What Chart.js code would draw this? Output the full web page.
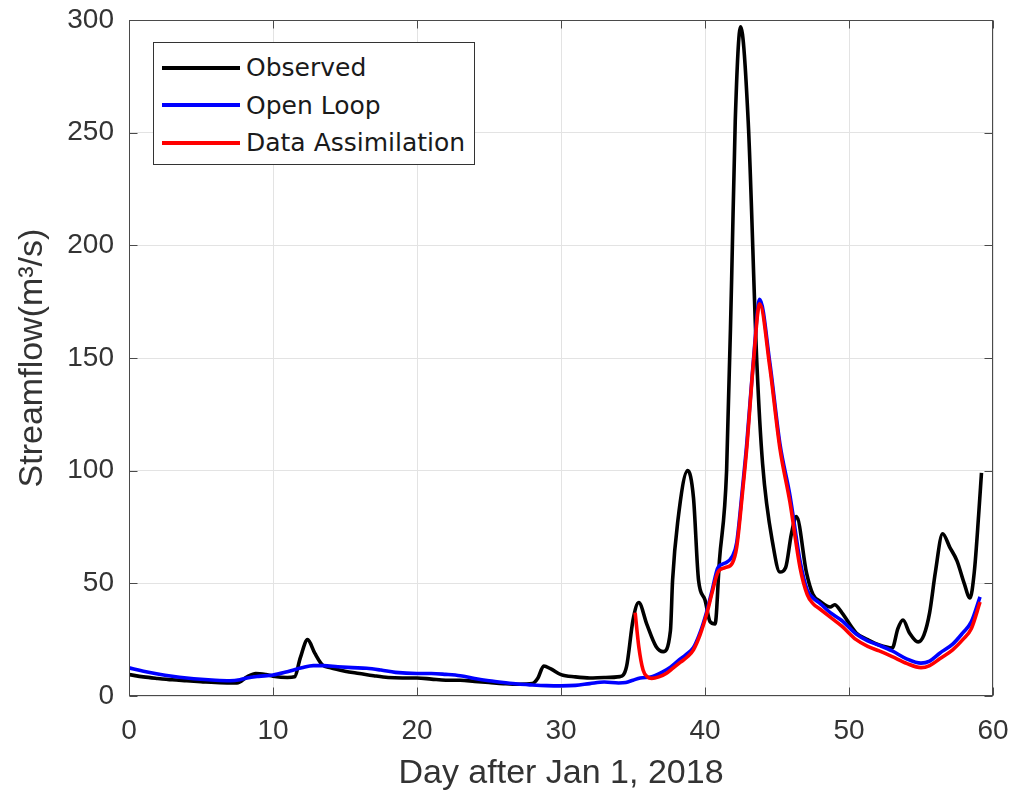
<!DOCTYPE html>
<html>
<head>
<meta charset="utf-8">
<script src="https://cdn.jsdelivr.net/npm/chart.js@4/dist/chart.umd.min.js"></script>
<style>
  html, body { margin: 0; padding: 0; background: #fff; }
  #wrap { position: relative; width: 1016px; height: 796px; }
  #flow { display: block; }
  #legend {
    position: absolute; left: 153px; top: 42px; width: 322px; height: 123px;
    border: 1px solid #333; background: #fff; box-sizing: border-box;
    padding-top: 6px; font-family: "DejaVu Sans", sans-serif; font-size: 25px; color: #1a1a1a;
  }
  #legend .row { display: flex; align-items: center; height: 37.5px; }
  #legend .swatch { width: 78px; height: 4px; margin-left: 8px; margin-right: 6px; }
</style>
</head>
<body>
<div id="wrap">
  <canvas id="flow" width="1016" height="796"></canvas>
  <div id="legend"></div>
</div>
<script>
// Daily streamflow record, Jan 1 – Mar 1 2018 (days after Jan 1, m³/s)
const obsDays = [0, 1, 2, 3, 4, 5, 6, 7, 7.5, 8.2, 8.8, 9.5, 10, 11, 11.5, 11.9, 12.4, 12.9, 13.4, 14, 15, 16, 17, 18, 19, 20,
  21, 22, 23, 24, 25, 26, 27, 28, 28.4, 28.8, 29.3, 30, 31, 32, 33, 34.1, 34.55, 35.0, 35.4, 35.95, 36.6, 37.1, 37.6, 37.75,
  38.1, 38.8, 39.2, 39.55, 40.0, 40.35, 40.7, 41.0, 41.5, 41.85, 42.1, 42.47, 43.0, 43.6, 44.0, 44.75, 45.2, 45.6, 46.0, 46.35,
  47.05, 47.5, 48.0, 48.7, 49.0, 49.5, 50.5, 51.3, 52.1, 53.0, 53.4, 53.75, 54.2, 54.8, 55.2, 55.6, 56.0, 56.5, 57.0, 57.5,
  58.0, 58.4, 58.7, 59.0, 59.2];
const obsFlow = [9.5, 8.5, 7.8, 7.2, 6.8, 6.4, 6.0, 5.8, 5.8, 8.5, 10, 9.5, 8.8, 8.2, 8.5, 17, 25, 19, 14, 12.5, 11, 10, 9, 8.2, 8, 8,
  7.5, 7, 7, 6.5, 6, 5.5, 5.2, 5.5, 8, 13.3, 12, 9.5, 8.5, 8, 8.2, 8.6, 13, 33.7, 41.5, 32, 22, 19.7, 29, 51.5,
  77, 100, 88, 51.5, 42.6, 33, 32, 60, 100, 185, 255, 297, 255, 148, 103, 66, 55, 57, 72, 79.6,
  54.6, 45, 42, 39.5, 40.5, 37, 28, 25, 22.6, 21.3, 30, 33.7, 28, 24, 27, 37, 55, 72, 66, 60,
  50, 43.5, 55, 80, 99];

const olDays = [0, 1, 2, 3, 4, 5, 6, 7, 7.7, 8.2, 9, 10, 11, 12, 12.8, 13.5, 14.5, 15.5, 16.5, 17.5, 18.5, 20, 21, 22, 23, 24,
  25, 26, 27, 28, 29, 30, 31, 32, 33, 34, 34.5, 35, 35.5, 36.3, 37, 37.6, 38.2, 38.7, 39.2, 39.65, 40.1, 40.5, 40.9, 41.4,
  41.9, 42.2, 42.6, 42.9, 43.35, 43.8, 44.5, 45.2, 45.9, 46.6, 47.1, 47.5, 48, 48.7, 49.5, 50.5, 51.3, 52.1, 53, 54,
  55, 55.6, 56.3, 57.2, 57.9, 58.5, 59.1];
const olFlow = [12.5, 11, 9.8, 8.8, 8, 7.4, 7, 6.8, 7.2, 8, 8.7, 9.3, 10.8, 12.5, 13.5, 13.5, 13, 12.6, 12.3, 11.5, 10.5, 10, 10, 9.6, 9, 7.8,
  6.8, 6, 5.3, 4.9, 4.6, 4.5, 4.7, 5.5, 6.2, 5.8, 6, 7, 8, 8.5, 10.5, 12.8, 16, 18.5, 21.5, 28, 37, 47, 57, 59,
  62, 68, 92, 112, 148, 176, 148, 112, 89, 60, 47, 43.5, 41, 37, 33.5, 27.5, 24.5, 22.5, 20, 16.5,
  14.6, 15.5, 19, 23, 28, 33, 44];

const daDays = [35.15, 35.4, 35.7, 36.0, 36.3, 36.8, 37.3, 37.8, 38.3, 38.8, 39.2, 39.65, 40.1, 40.5, 40.9, 41.4, 41.9, 42.2,
  42.6, 42.9, 43.35, 43.8, 44.5, 45.2, 45.9, 46.6, 47.1, 47.5, 48, 48.7, 49.5, 50.5, 51.3, 52.1, 53, 54, 55, 55.6, 56.3,
  57.2, 57.9, 58.5, 59.1];
const daFlow = [37, 22, 11.5, 8.5, 7.8, 8.5, 10, 12.5, 15, 17.5, 20.5, 27, 36, 46, 55, 57, 59, 66,
  90, 110, 147, 174, 146, 110, 86, 57, 45, 41, 38.5, 35, 31, 25, 22, 20, 17.5, 14.5, 12.6, 13.5, 16.5,
  20.5, 25, 30, 41.7];

const seriesNames = ['Observed', 'Open Loop', 'Data Assimilation'];
const seriesColors = ['#000000', '#0000ff', '#ff0000'];
const dayTicks = [0, 10, 20, 30, 40, 50, 60];
const flowTicks = [0, 50, 100, 150, 200, 250, 300];

const toPoints = (xs, ys) => xs.map((x, i) => ({ x: x, y: ys[i] }));

// Box around the plot area with inward tick marks on all four sides
const framePlugin = {
  id: 'frame',
  afterDraw(chart) {
    const { ctx, chartArea: a, scales } = chart;
    ctx.save();
    ctx.strokeStyle = '#4a4a4a';
    ctx.lineWidth = 1;
    const L = Math.round(a.left) + 0.5, R = Math.round(a.right) - 0.5;
    const T = Math.round(a.top) + 0.5, B = Math.round(a.bottom) - 0.5;
    ctx.strokeRect(L, T, R - L, B - T);
    const len = 8;
    ctx.beginPath();
    dayTicks.forEach(v => {
      const px = Math.round(scales.x.getPixelForValue(v)) + 0.5;
      ctx.moveTo(px, B); ctx.lineTo(px, B - len);
      ctx.moveTo(px, T); ctx.lineTo(px, T + len);
    });
    flowTicks.forEach(v => {
      const py = Math.round(scales.y.getPixelForValue(v)) + 0.5;
      ctx.moveTo(L, py); ctx.lineTo(L + len, py);
      ctx.moveTo(R, py); ctx.lineTo(R - len, py);
    });
    ctx.stroke();
    ctx.restore();
  }
};

const axisFont = '"Liberation Sans", Arial, sans-serif';

const chart = new Chart(document.getElementById('flow'), {
  type: 'line',
  data: {
    datasets: [
      { label: seriesNames[0], data: toPoints(obsDays, obsFlow), borderColor: seriesColors[0], order: 3 },
      { label: seriesNames[1], data: toPoints(olDays, olFlow), borderColor: seriesColors[1], order: 2 },
      { label: seriesNames[2], data: toPoints(daDays, daFlow), borderColor: seriesColors[2], order: 1 }
    ]
  },
  options: {
    responsive: false,
    animation: false,
    layout: { padding: { top: 20, right: 23, left: 0, bottom: 0 } },
    plugins: { legend: { display: false }, tooltip: { enabled: false } },
    elements: {
      point: { radius: 0 },
      line: { borderWidth: 3.6, cubicInterpolationMode: 'monotone', fill: false }
    },
    scales: {
      x: {
        type: 'linear', min: 0, max: 60,
        afterBuildTicks(s) { s.ticks = dayTicks.map(v => ({ value: v })); },
        afterFit(s) { s.height = 100; s.paddingLeft = 0; s.paddingRight = 0; },
        ticks: {
          color: '#333',
          padding: 18,
          font: { family: axisFont, size: 28 }
        },
        grid: { color: '#e3e3e3', lineWidth: 1, drawTicks: false },
        border: { display: false },
        title: {
          display: true, text: 'Day after Jan 1, 2018', color: '#333',
          padding: { top: 0, bottom: 2 },
          font: { family: axisFont, size: 34 }
        }
      },
      y: {
        type: 'linear', min: 0, max: 300,
        afterBuildTicks(s) { s.ticks = flowTicks.map(v => ({ value: v })); },
        afterFit(s) { s.width = 129; s.paddingTop = 0; s.paddingBottom = 0; },
        ticks: {
          color: '#333',
          padding: 15,
          font: { family: axisFont, size: 28 }
        },
        grid: { color: '#e3e3e3', lineWidth: 1, drawTicks: false },
        border: { display: false },
        title: {
          display: true, text: 'Streamflow(m³/s)', color: '#333',
          padding: { top: 12, bottom: 0 },
          font: { family: axisFont, size: 34 }
        }
      }
    }
  },
  plugins: [framePlugin]
});

// Legend built from the chart's datasets
const legendBox = document.getElementById('legend');
chart.data.datasets.forEach(ds => {
  const row = document.createElement('div');
  row.className = 'row';
  const sw = document.createElement('span');
  sw.className = 'swatch';
  sw.style.background = ds.borderColor;
  const txt = document.createElement('span');
  txt.textContent = ds.label;
  row.appendChild(sw);
  row.appendChild(txt);
  legendBox.appendChild(row);
});
</script>
</body>
</html>
